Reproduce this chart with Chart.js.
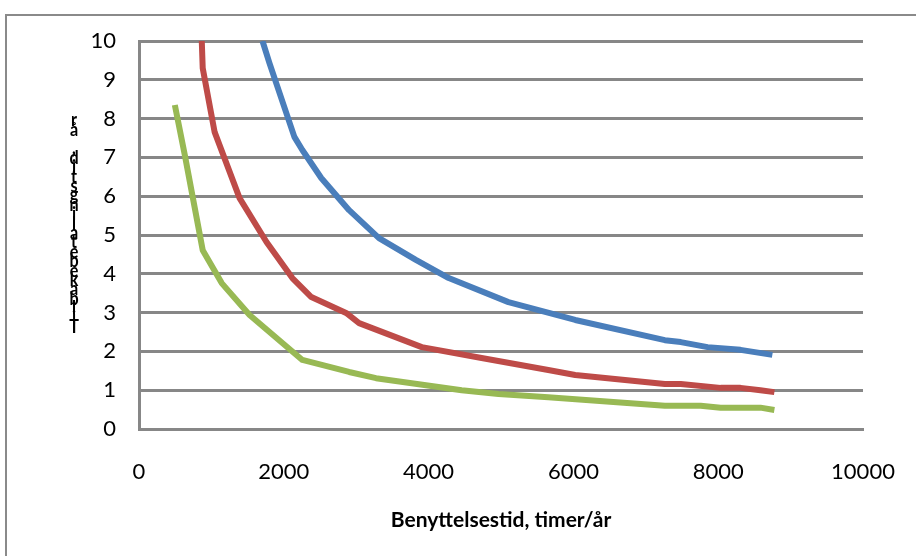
<!DOCTYPE html>
<html>
<head>
<meta charset="utf-8">
<script src="https://cdn.jsdelivr.net/npm/chart.js@4/dist/chart.umd.min.js"></script>
<style>
  html, body { margin: 0; padding: 0; background: #ffffff; overflow: hidden; }
  canvas { display: block; }
</style>
</head>
<body>
<canvas id="chart" width="916" height="556"></canvas>
<script>
// Axis texts
const xTitle = 'Benyttelsestid, timer/år';
const yTitle = 'Tilbakebetalingstid, år';
const xTickValues = [0, 2000, 4000, 6000, 8000, 10000];
const yTickValues = [0, 1, 2, 3, 4, 5, 6, 7, 8, 9, 10];

// Blue curve: usage hours per year -> payback years
const blueHours = [1706, 1802, 2146, 2256, 2517, 2902, 3315, 3824, 4278, 5103, 6025, 7263, 7483, 7854, 8308, 8748];
const blueYears = [10.0, 9.43, 7.53, 7.19, 6.47, 5.64, 4.92, 4.36, 3.89, 3.27, 2.81, 2.29, 2.24, 2.11, 2.04, 1.91];

// Red curve
const redHours = [867, 880, 1045, 1389, 1761, 2118, 2380, 2861, 3040, 3906, 4732, 5653, 6025, 7263, 7483, 8033, 8308, 8583, 8776];
const redYears = [10.0, 9.3, 7.65, 5.95, 4.82, 3.89, 3.40, 2.99, 2.73, 2.11, 1.83, 1.52, 1.39, 1.16, 1.16, 1.06, 1.06, 1.00, 0.95];

// Green curve
const greenHours = [495, 633, 770, 880, 1142, 1527, 2256, 2902, 3274, 4457, 4966, 5653, 7263, 7758, 8033, 8583, 8776];
const greenYears = [8.35, 7.06, 5.70, 4.61, 3.76, 2.94, 1.78, 1.47, 1.31, 1.00, 0.90, 0.82, 0.60, 0.60, 0.55, 0.55, 0.49];

const toPoints = (xs, ys) => xs.map((x, i) => ({ x: x, y: ys[i] }));

const GRID = '#878787';

// Outer frame around the chart
const framePlugin = {
  id: 'frame',
  beforeDraw(chart) {
    const ctx = chart.ctx;
    ctx.save();
    ctx.fillStyle = '#ffffff';
    ctx.fillRect(0, 0, chart.width, chart.height);
    ctx.strokeStyle = '#8a8a8a';
    ctx.lineWidth = 2;
    ctx.beginPath();
    ctx.moveTo(6, chart.height);
    ctx.lineTo(6, 15);
    ctx.lineTo(chart.width, 15);
    ctx.stroke();
    ctx.restore();
  }
};

// Vertical axis title, letters stacked upright from bottom to top
const stackedTitlePlugin = {
  id: 'stackedTitle',
  afterDraw(chart) {
    const ctx = chart.ctx;
    ctx.save();
    ctx.fillStyle = '#000000';
    ctx.font = 'bold 19px Lato';
    ctx.textAlign = 'center';
    ctx.textBaseline = 'alphabetic';
    const chars = Array.from(yTitle);
    chars.forEach((ch, i) => {
      ctx.save();
      ctx.translate(74, 333 - i * 9.4);
      ctx.scale(0.85, 1);
      ctx.fillText(ch, 0, 0);
      ctx.restore();
    });
    ctx.restore();
  }
};

new Chart(document.getElementById('chart'), {
  type: 'scatter',
  data: {
    datasets: [
      { data: toPoints(blueHours, blueYears), borderColor: '#4A7EBB' },
      { data: toPoints(redHours, redYears), borderColor: '#BE4B48' },
      { data: toPoints(greenHours, greenYears), borderColor: '#98B954' }
    ].map(d => Object.assign(d, {
      showLine: true,
      borderWidth: 6,
      pointRadius: 0,
      pointHoverRadius: 0,
      tension: 0,
      borderJoinStyle: 'round',
      borderCapStyle: 'butt',
      fill: false
    }))
  },
  options: {
    responsive: false,
    animation: false,
    events: [],
    layout: { padding: { top: 41, right: 53, left: 0, bottom: 0 } },
    plugins: {
      legend: { display: false },
      tooltip: { enabled: false }
    },
    scales: {
      x: {
        type: 'linear',
        min: 0,
        max: 10000,
        afterFit(scale) {
          scale.height = 127;
          scale.paddingLeft = 0;
          scale.paddingRight = 0;
        },
        afterBuildTicks(scale) { scale.ticks = xTickValues.map(v => ({ value: v })); },
        grid: { display: false, drawTicks: false },
        border: { display: true, color: GRID, width: 3 },
        ticks: {
          color: '#000000', padding: 30, maxRotation: 0,
          font: { family: 'Lato', size: 22 },
          callback: v => String(v)
        },
        title: {
          display: true,
          text: xTitle,
          color: '#000000',
          font: { family: 'Lato', size: 21, weight: 'bold' },
          padding: { top: 0, bottom: 23 }
        }
      },
      y: {
        type: 'linear',
        min: 0,
        max: 10,
        afterFit(scale) { scale.width = 139; },
        afterBuildTicks(scale) { scale.ticks = yTickValues.map(v => ({ value: v })); },
        grid: { display: true, color: GRID, lineWidth: 3, drawTicks: false },
        border: { display: true, color: GRID, width: 3 },
        ticks: {
          color: '#000000', padding: 23,
          font: { family: 'Lato', size: 22 },
          callback: v => String(v)
        }
      }
    }
  },
  plugins: [framePlugin, stackedTitlePlugin]
});
</script>
</body>
</html>
